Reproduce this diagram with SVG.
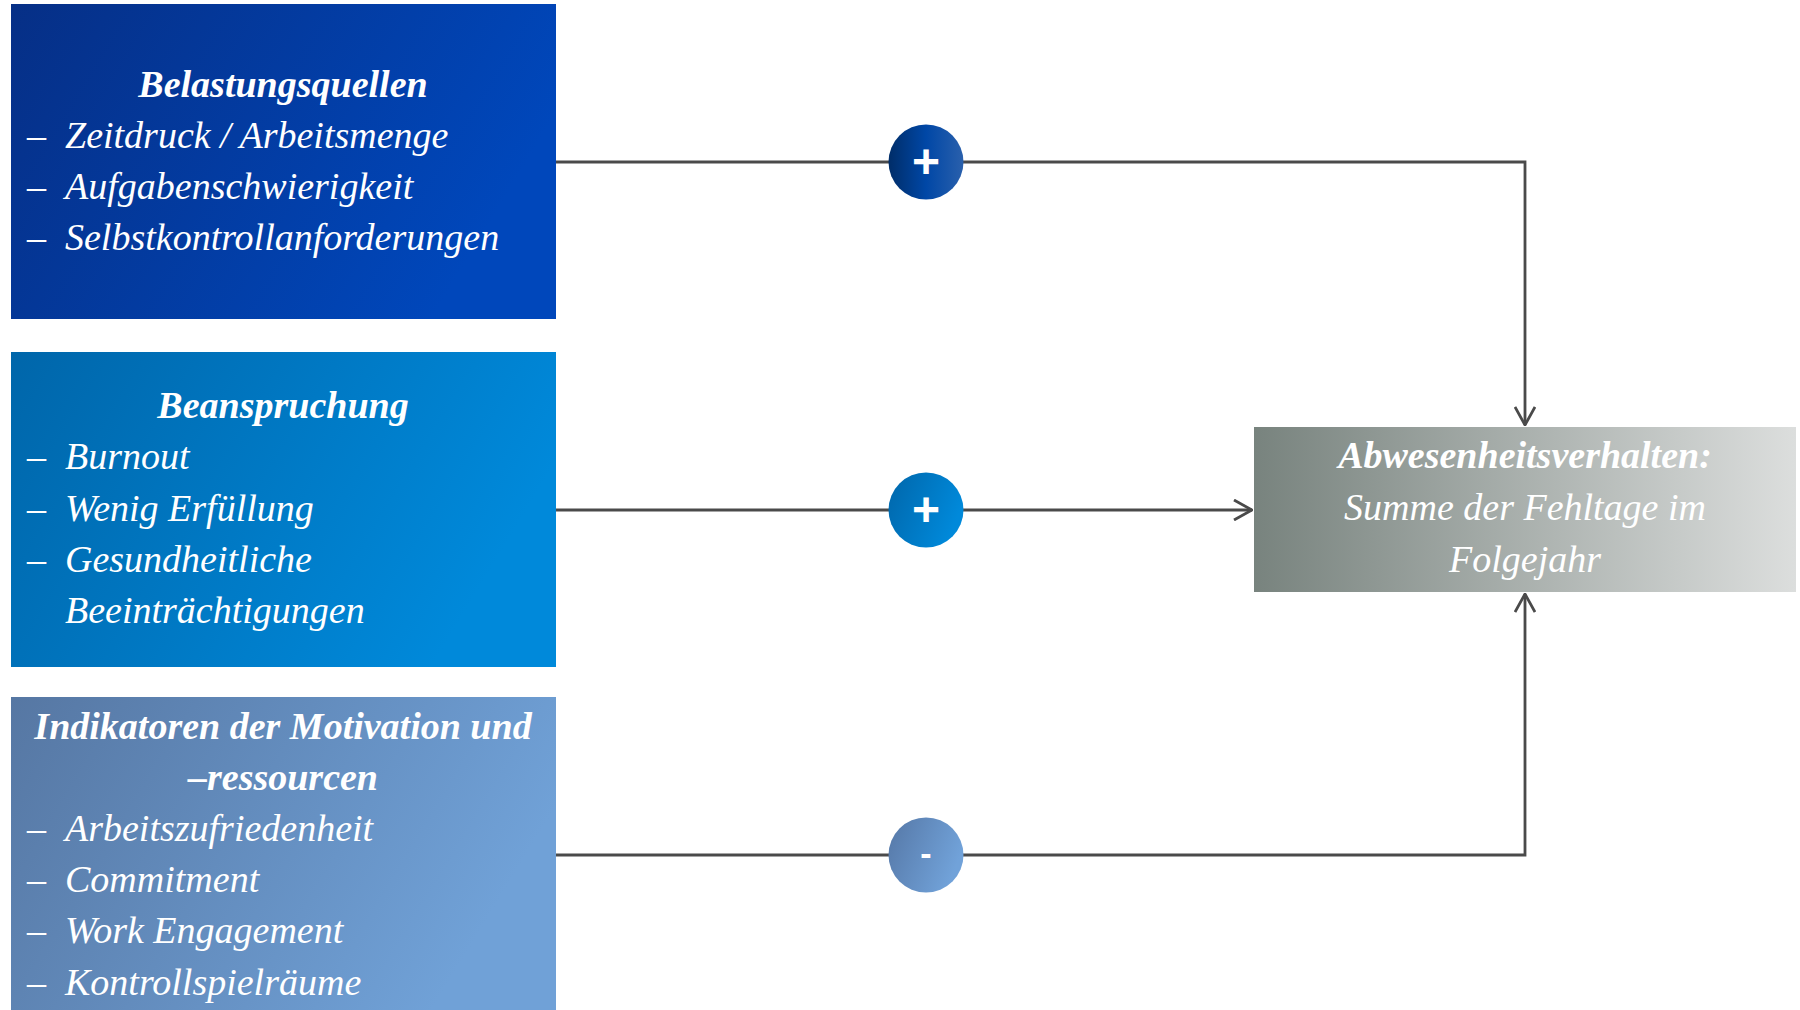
<svg xmlns="http://www.w3.org/2000/svg" width="1800" height="1010" viewBox="0 0 1800 1010">
<style>
.t{font-family:"Liberation Serif","Times New Roman",serif;font-style:italic;font-size:38px;fill:#ffffff}
.h{font-weight:bold;text-anchor:middle}
.c{text-anchor:middle}
.conn{fill:none;stroke:#4a4a4a;stroke-width:2.8}
.sign{font-family:"Liberation Sans",Arial,sans-serif;fill:#ffffff;text-anchor:middle;font-weight:bold}
</style>
<defs>
<linearGradient id="g1" x1="0" y1="0" x2="1" y2="0.35"><stop offset="0" stop-color="#062f86"/><stop offset="1" stop-color="#0047bb"/></linearGradient>
<linearGradient id="g2" x1="0" y1="0" x2="1" y2="0.35"><stop offset="0" stop-color="#0066aa"/><stop offset="1" stop-color="#0089da"/></linearGradient>
<linearGradient id="g3" x1="0" y1="0" x2="1" y2="0.35"><stop offset="0" stop-color="#5677a3"/><stop offset="1" stop-color="#70a1d7"/></linearGradient>
<linearGradient id="g4" x1="0" y1="0" x2="1" y2="0"><stop offset="0" stop-color="#78837e"/><stop offset="1" stop-color="#dcdedd"/></linearGradient>
<linearGradient id="c1" x1="0" y1="0" x2="1" y2="0"><stop offset="0" stop-color="#002d68"/><stop offset="0.5" stop-color="#0047a6"/><stop offset="1" stop-color="#2a60ac"/></linearGradient>
<linearGradient id="c2" x1="0" y1="0" x2="1" y2="0.4"><stop offset="0" stop-color="#0066aa"/><stop offset="1" stop-color="#0089da"/></linearGradient>
<linearGradient id="c3" x1="0" y1="0" x2="1" y2="0.4"><stop offset="0" stop-color="#5577a6"/><stop offset="1" stop-color="#71a2d9"/></linearGradient>
<marker id="arr" viewBox="0 0 20 22" refX="19" refY="11" markerWidth="20" markerHeight="22" markerUnits="userSpaceOnUse" orient="auto">
<path d="M1,1 L19,11 L1,21" fill="none" stroke="#4a4a4a" stroke-width="2.8"/>
</marker>
</defs>
<rect width="1800" height="1010" fill="#ffffff"/>

<g id="connectors">
<path class="conn" d="M556,162 H1525 V425" marker-end="url(#arr)"/>
<path class="conn" d="M556,510 H1252" marker-end="url(#arr)"/>
<path class="conn" d="M556,855 H1525 V594" marker-end="url(#arr)"/>
</g>

<g id="belastungsquellen">
<rect x="11" y="4" width="545" height="315" fill="url(#g1)"/>
<text class="t h" x="283" y="97">Belastungsquellen</text>
<text class="t" x="27" y="148">–</text><text class="t" x="65" y="148">Zeitdruck / Arbeitsmenge</text>
<text class="t" x="27" y="199">–</text><text class="t" x="65" y="199">Aufgabenschwierigkeit</text>
<text class="t" x="27" y="250">–</text><text class="t" x="65" y="250">Selbstkontrollanforderungen</text>
</g>

<g id="beanspruchung">
<rect x="11" y="352" width="545" height="315" fill="url(#g2)"/>
<text class="t h" x="283" y="418">Beanspruchung</text>
<text class="t" x="27" y="469">–</text><text class="t" x="65" y="469">Burnout</text>
<text class="t" x="27" y="521">–</text><text class="t" x="65" y="521">Wenig Erfüllung</text>
<text class="t" x="27" y="572">–</text><text class="t" x="65" y="572">Gesundheitliche</text>
<text class="t" x="65" y="623">Beeinträchtigungen</text>
</g>

<g id="indikatoren">
<rect x="11" y="697" width="545" height="313" fill="url(#g3)"/>
<text class="t h" x="283" y="739">Indikatoren der Motivation und</text>
<text class="t h" x="283" y="790">–ressourcen</text>
<text class="t" x="27" y="841">–</text><text class="t" x="65" y="841">Arbeitszufriedenheit</text>
<text class="t" x="27" y="892">–</text><text class="t" x="65" y="892">Commitment</text>
<text class="t" x="27" y="943">–</text><text class="t" x="65" y="943">Work Engagement</text>
<text class="t" x="27" y="995">–</text><text class="t" x="65" y="995">Kontrollspielräume</text>
</g>

<g id="abwesenheit">
<rect x="1254" y="427" width="542" height="165" fill="url(#g4)"/>
<text class="t h" x="1525" y="468">Abwesenheitsverhalten:</text>
<text class="t c" x="1525" y="520">Summe der Fehltage im</text>
<text class="t c" x="1525" y="572">Folgejahr</text>
</g>

<g id="sign1">
<circle cx="926" cy="162" r="37.5" fill="url(#c1)"/>
<text class="sign" x="926" y="178" font-size="48">+</text>
</g>
<g id="sign2">
<circle cx="926" cy="510" r="37.5" fill="url(#c2)"/>
<text class="sign" x="926" y="526" font-size="48">+</text>
</g>
<g id="sign3">
<circle cx="926" cy="855" r="37.5" fill="url(#c3)"/>
<text class="sign" x="926" y="865" font-size="34">-</text>
</g>
</svg>
